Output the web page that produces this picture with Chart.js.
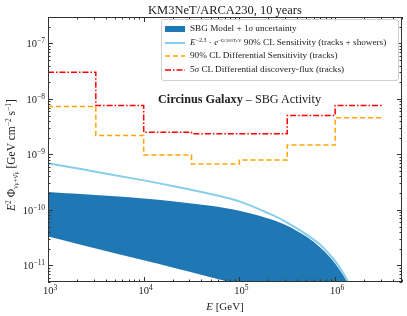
<!DOCTYPE html>
<html>
<head>
<meta charset="utf-8">
<script src="https://cdn.jsdelivr.net/npm/chart.js@4.4.0/dist/chart.umd.min.js"></script>
<style>
  html, body { margin:0; padding:0; background:#fff; }
  #wrap { position:relative; width:407px; height:316px; font-family:"Liberation Serif", "DejaVu Serif", serif; color:#222; overflow:hidden; }
  #chart { position:absolute; left:0; top:0; }
  .lbl { position:absolute; white-space:nowrap; line-height:1; }
  .tick { font-size:10.5px; }
  .sup { font-size:7.5px; position:relative; top:-4px; }
  .sub { font-size:7.5px; position:relative; top:3px; }
  #legend { position:absolute; left:161px; top:19px; width:236px; height:60px; border:1px solid #d0d0d0; border-radius:3px; background:rgba(255,255,255,0.85); font-size:9.2px; }
  .row { position:absolute; left:3px; white-space:nowrap; line-height:1; }
  .row svg { vertical-align:middle; margin-right:5px; }
</style>
</head>
<body>
<div id="wrap">
  <canvas id="chart" width="407" height="316"></canvas>
</div>
<script>
// ---- 数据 ----
// 模型曲线与带状区域的能量点 (GeV)
const energies = [1e3, 2e3, 5e3, 1e4, 2e4, 5e4, 1e5, 2e5, 3e5, 5e5, 7e5, 8.5e5, 1e6, 1.2e6, 1.4e6, 1.6e6];
// E^-2.3 截断 90% CL 灵敏度 (tracks + showers)
const sensitivityCurve = [6.9e-10, 5.6e-10, 4.2e-10, 3.4e-10, 2.7e-10, 1.93e-10, 1.42e-10, 8.7e-11, 6.2e-11, 3.6e-11, 2.35e-11, 1.66e-11, 1.2e-11, 7.5e-12, 4.7e-12, 3.1e-12];
// SBG 模型 1σ 上下界
const bandHigh = [2.1e-10, 1.95e-10, 1.75e-10, 1.6e-10, 1.43e-10, 1.18e-10, 9.6e-11, 7.0e-11, 5.4e-11, 3.3e-11, 2.1e-11, 1.5e-11, 1.08e-11, 6.8e-12, 4.3e-12, 2.8e-12];
const bandLow = [3.3e-11, 2.45e-11, 1.65e-11, 1.23e-11, 9.1e-12, 6.1e-12, 4.4e-12, 2.8e-12, 2.1e-12, 1.2e-12, 7e-13, 5e-13, 3.5e-13, 2e-13, 1.2e-13, 8e-14];

// 微分灵敏度的能量区间边界
const binEdges = [1e3, 3.16e3, 1e4, 3.16e4, 1e5, 3.16e5, 1e6, 3.16e6];
const diffSensitivity = [7.3e-9, 2.2e-9, 9.7e-10, 6.7e-10, 7.9e-10, 1.47e-9, 4.6e-9, 4.6e-9];
const discoveryFlux = [3.04e-8, 7.6e-9, 2.5e-9, 2.35e-9, 2.35e-9, 5.0e-9, 7.6e-9, 7.6e-9];

// 坐标轴刻度 (10 的幂)
const xTickExps = [3, 4, 5, 6];
const yTickExps = [-11, -10, -9, -8, -7];

const pts = (xs, ys) => xs.map((x, i) => ({ x: x, y: ys[i] }));

// 画边框和朝内的刻度线
const frameTicks = {
  id: "frameTicks",
  afterDatasetsDraw(chart) {
    const ctx = chart.ctx;
    const a = chart.chartArea;
    const sx = chart.scales.x, sy = chart.scales.y;
    ctx.save();
    ctx.strokeStyle = "#333";
    ctx.lineWidth = 1;
    ctx.strokeRect(a.left + 0.5, a.top + 0.5, a.right - a.left - 1, a.bottom - a.top - 1);

    for (let e = 3; e <= 6; e++) {
      for (let k = 1; k <= 9; k++) {
        const v = k * Math.pow(10, e);
        if (v < sx.min || v > sx.max) continue;
        const px = Math.round(sx.getPixelForValue(v)) + 0.5;
        const len = k === 1 ? 5 : 2.5;
        ctx.beginPath();
        ctx.moveTo(px, a.bottom); ctx.lineTo(px, a.bottom - len);
        ctx.moveTo(px, a.top); ctx.lineTo(px, a.top + len);
        ctx.stroke();
      }
    }
    for (let e = -12; e <= -7; e++) {
      for (let k = 1; k <= 9; k++) {
        const v = k * Math.pow(10, e);
        if (v < sy.min || v > sy.max) continue;
        const py = Math.round(sy.getPixelForValue(v)) + 0.5;
        const len = k === 1 ? 5 : 2.5;
        ctx.beginPath();
        ctx.moveTo(a.left, py); ctx.lineTo(a.left + len, py);
        ctx.moveTo(a.right, py); ctx.lineTo(a.right - len, py);
        ctx.stroke();
      }
    }
    ctx.restore();
  }
};

const chart = new Chart(document.getElementById("chart").getContext("2d"), {
  type: "line",
  data: {
    datasets: [
      {
        label: "SBG Model + 1σ uncertainty",
        data: pts(energies, bandHigh),
        fill: "+1",
        backgroundColor: "#1f77b4",
        borderColor: "#1f77b4",
        borderWidth: 0,
        pointRadius: 0,
        cubicInterpolationMode: "monotone",
        order: 5
      },
      {
        label: "band low",
        data: pts(energies, bandLow),
        fill: false,
        borderColor: "#1f77b4",
        borderWidth: 0,
        pointRadius: 0,
        cubicInterpolationMode: "monotone",
        order: 6
      },
      {
        label: "90% CL Sensitivity (tracks + showers)",
        data: pts(energies, sensitivityCurve),
        fill: false,
        borderColor: "#87ceeb",
        borderWidth: 2,
        pointRadius: 0,
        cubicInterpolationMode: "monotone",
        order: 3
      },
      {
        label: "90% CL Differential Sensitivity (tracks)",
        data: pts(binEdges, diffSensitivity),
        stepped: "before",
        fill: false,
        borderColor: "#ffa500",
        borderWidth: 1.5,
        borderDash: [5, 3],
        pointRadius: 0,
        order: 2
      },
      {
        label: "5σ CL Differential discovery-flux (tracks)",
        data: pts(binEdges, discoveryFlux),
        stepped: "before",
        fill: false,
        borderColor: "#ff0000",
        borderWidth: 1.5,
        borderDash: [6, 2, 1.5, 2],
        pointRadius: 0,
        order: 1
      }
    ]
  },
  options: {
    responsive: false,
    animation: false,
    layout: { padding: { top: 17, right: 5, left: 0, bottom: 0 } },
    plugins: { legend: { display: false }, tooltip: { enabled: false } },
    scales: {
      x: {
        type: "logarithmic", min: 1e3, max: 5e6,
        ticks: { display: false }, grid: { display: false }, border: { display: false },
        afterFit: s => { s.height = 34; }
      },
      y: {
        type: "logarithmic", min: 5e-12, max: 3e-7,
        ticks: { display: false }, grid: { display: false }, border: { display: false },
        afterFit: s => { s.width = 48; }
      }
    }
  },
  plugins: [frameTicks]
});

// ---- 文字 (HTML) ----
const wrap = document.getElementById("wrap");
function addLabel(html, x, y, cls, tf) {
  const d = document.createElement("div");
  d.className = "lbl " + (cls || "");
  d.innerHTML = html;
  d.style.left = x + "px";
  d.style.top = y + "px";
  d.style.transform = tf || "translate(-50%, -50%)";
  wrap.appendChild(d);
  return d;
}

const sx = chart.scales.x, sy = chart.scales.y;
xTickExps.forEach(e => {
  addLabel(`10<span class="sup">${e}</span>`, sx.getPixelForValue(Math.pow(10, e)) + 2, 291, "tick");
});
yTickExps.forEach(e => {
  addLabel(`10<span class="sup">${String(e).replace("-", "−")}</span>`, 45, sy.getPixelForValue(Math.pow(10, e)) + 1, "tick", "translate(-100%, -50%)");
});

addLabel("KM3NeT/ARCA230, 10 years", 225, 10, "", null).style.fontSize = "12.5px";
addLabel("<i>E</i> [GeV]", 225, 306, "", null).style.fontSize = "11px";
const yt = addLabel(`<i>E</i><span class="sup">2</span> Φ<span class="sub">ν<span style="font-size:6px">μ</span>+ν̄<span style="font-size:6px">μ</span></span> [GeV cm<span class="sup">−2</span> s<span class="sup">−1</span>]`,
  12, 155, "", "translate(-50%, -50%) rotate(-90deg)");
yt.style.fontSize = "11.5px";

const ann = addLabel(`<b>Circinus Galaxy</b> – SBG Activity`, 158, 99, "", "translate(0, -50%)");
ann.style.fontSize = "12.2px";

// 图例
const legend = document.createElement("div");
legend.id = "legend";
const line = (color, w, dash) =>
  `<svg width="20" height="6"><line x1="0" y1="3" x2="20" y2="3" stroke="${color}" stroke-width="${w}" ${dash ? `stroke-dasharray="${dash}"` : ""}/></svg>`;
const rows = [
  `<svg width="20" height="6" style="vertical-align:middle;margin-right:5px"><rect x="0" y="0" width="20" height="6" fill="#1f77b4"/></svg>SBG Model + 1<i>σ</i> uncertainty`,
  line("#87ceeb", 2, "") + `<i>E</i><span class="sup" style="font-size:6px;top:-3px">−2.3</span> · <i>e</i><span class="sup" style="font-size:5px;top:-3px">−E/500TeV</span> 90% CL Sensitivity (tracks + showers)`,
  line("#ffa500", 1.5, "5,3") + `90% CL Differential Sensitivity (tracks)`,
  line("#ff0000", 1.5, "6,2,1.5,2") + `5<i>σ</i> CL Differential discovery-flux (tracks)`
];
rows.forEach((r, i) => {
  const d = document.createElement("div");
  d.className = "row";
  d.style.top = (4 + i * 13.7) + "px";
  d.innerHTML = r;
  legend.appendChild(d);
});
wrap.appendChild(legend);
</script>
</body>
</html>
